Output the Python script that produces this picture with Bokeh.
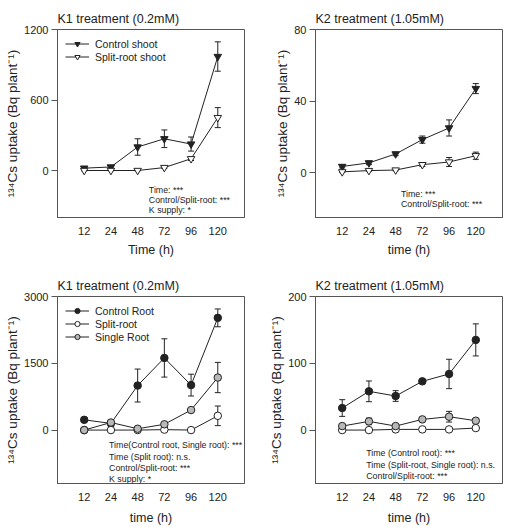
import numpy as np
from bokeh.plotting import figure
from bokeh.layouts import gridplot
from bokeh.models import FixedTicker, Label, Legend, LegendItem, Title
from bokeh.embed import file_html
from bokeh.resources import INLINE

# Sampling times (h), shown as evenly spaced categories
times = ["12", "24", "48", "72", "96", "120"]

# Shoot uptake, K1 (0.2 mM)
k1_control_shoot = [20, 30, 200, 270, 225, 970]
k1_control_shoot_err = [8, 8, 70, 75, 60, 125]
k1_split_shoot = [0, 0, 0, 25, 100, 450]
k1_split_shoot_err = [3, 3, 3, 6, 15, 85]

# Shoot uptake, K2 (1.05 mM)
k2_control_shoot = [3.5, 5.5, 10.5, 18.5, 25, 47]
k2_control_shoot_err = [0.8, 1.0, 1.0, 2.0, 4.5, 2.8]
k2_split_shoot = [0.5, 1.2, 1.5, 4.5, 6, 9.5]
k2_split_shoot_err = [0.4, 0.4, 0.4, 1.0, 2.5, 2.0]

# Root uptake, K1 (0.2 mM)
k1_control_root = [230, 150, 1000, 1620, 1010, 2520]
k1_control_root_err = [40, 70, 370, 430, 245, 200]
k1_split_root = [0, 0, 0, 10, 0, 320]
k1_split_root_err = [5, 5, 5, 10, 5, 220]
k1_single_root = [0, 170, 30, 130, 450, 1180]
k1_single_root_err = [10, 60, 20, 20, 30, 340]

# Root uptake, K2 (1.05 mM)
k2_control_root = [33, 58, 51, 73, 84, 135]
k2_control_root_err = [12.5, 15.5, 8, 2, 22, 24]
k2_split_root = [0, 0, 1, 1, 1, 3]
k2_split_root_err = [0.5, 0.5, 0.5, 0.5, 0.5, 1]
k2_single_root = [6, 13, 6, 16, 20, 14]
k2_single_root_err = [2, 5, 2, 3, 8, 3]

FONT = "Liberation Sans"
INK = "#222222"
FRAME = "#555555"
GREY_FILL = "#b8b8b8"
YLABEL = "\u00b9\u00b3\u2074Cs uptake (Bq plant\u207b\u00b9)"

xs = np.arange(len(times))


def make_panel(title, width, height, borders, yrange, yticks, xlabel, label_pad, ylab):
    left, right, top, bottom = borders
    p = figure(width=width, height=height, x_range=(-1, 6), y_range=yrange,
               output_backend="svg", toolbar_location=None,
               min_border_left=left, min_border_right=right,
               min_border_top=top, min_border_bottom=bottom,
               background_fill_color="white", border_fill_color="white")
    p.grid.visible = False
    p.outline_line_color = FRAME
    p.outline_line_width = 1

    p.title.text = title
    p.title.align = "left"
    p.title.text_font = FONT
    p.title.text_font_size = "12.5px"
    p.title.text_font_style = "normal"
    p.title.text_color = INK
    p.title.standoff = 8

    xa = p.xaxis[0]
    xa.ticker = FixedTicker(ticks=list(xs))
    xa.major_label_overrides = {int(i): t for i, t in zip(xs, times)}
    xa.major_tick_out = 0
    xa.major_tick_in = 0
    xa.minor_tick_out = 0
    xa.minor_tick_in = 0
    xa.major_label_standoff = label_pad[0]
    xa.axis_label = xlabel
    xa.axis_label_standoff = label_pad[1]

    ya = p.yaxis[0]
    ya.ticker = FixedTicker(ticks=yticks)
    ya.major_tick_out = 6
    ya.major_tick_in = 0
    ya.minor_tick_out = 0
    ya.minor_tick_in = 0
    ya.major_label_standoff = 3

    for ax in (xa, ya):
        ax.axis_line_color = FRAME
        ax.major_tick_line_color = FRAME
        ax.major_label_text_font = FONT
        ax.major_label_text_font_size = "11px"
        ax.major_label_text_color = INK
        ax.axis_label_text_font = FONT
        ax.axis_label_text_font_size = "12.5px"
        ax.axis_label_text_font_style = "normal"
        ax.axis_label_text_color = INK

    # vertical quantity label, left of the tick labels, nudged a little downward
    shift, gap = ylab
    p.add_layout(Title(text=YLABEL, align="center", offset=shift, standoff=gap,
                       text_font=FONT, text_font_size="13.5px",
                       text_font_style="normal", text_color=INK), "left")
    return p


def add_series(p, values, errors, marker, fill):
    v = np.asarray(values, dtype=float)
    e = np.asarray(errors, dtype=float)
    p.segment(x0=xs, y0=v - e, x1=xs, y1=v + e, line_color=INK, line_width=1)
    p.scatter(x=xs, y=v + e, marker="dash", size=6, line_color=INK, line_width=1)
    p.scatter(x=xs, y=v - e, marker="dash", size=6, line_color=INK, line_width=1)
    ln = p.line(x=xs, y=v, line_color=INK, line_width=1)
    mk = p.scatter(x=xs, y=v, marker=marker, size=7.5, fill_color=fill,
                   line_color=INK, line_width=1)
    return [ln, mk]


def add_legend(p, items):
    leg = Legend(items=[LegendItem(label=lab, renderers=r) for lab, r in items],
                 location="top_left", border_line_alpha=0,
                 background_fill_alpha=0, glyph_width=24, glyph_height=13,
                 label_height=13, label_standoff=6, spacing=0,
                 margin=3, padding=5, label_text_font=FONT,
                 label_text_font_size="10.5px", label_text_color=INK)
    p.add_layout(leg)


def add_notes(p, x, ys, lines):
    for y, t in zip(ys, lines):
        p.add_layout(Label(x=x, y=y, text=t, text_font=FONT, text_font_size="8.8px",
                           text_color=INK, text_baseline="middle", text_align="left"))


# K1 shoot
p1 = make_panel("K1 treatment (0.2mM)", 255, 262, (57, 11, 29, 45), (-400, 1200),
                [0, 600, 1200], "Time (h)", (9, 5), (-9.5, 3))
r_cs = add_series(p1, k1_control_shoot, k1_control_shoot_err, "inverted_triangle", INK)
r_ss = add_series(p1, k1_split_shoot, k1_split_shoot_err, "inverted_triangle", "white")
add_legend(p1, [("Control shoot", r_cs), ("Split-root shoot", r_ss)])
add_notes(p1, 2.42, [-170, -255, -340],
          ["Time: ***", "Control/Split-root: ***", "K supply: *"])

# K2 shoot
p2 = make_panel("K2 treatment (1.05mM)", 254, 262, (60, 7, 29, 45), (-25, 80),
                [0, 40, 80], "time (h)", (9, 5), (-8.5, 3))
add_series(p2, k2_control_shoot, k2_control_shoot_err, "inverted_triangle", INK)
add_series(p2, k2_split_shoot, k2_split_shoot_err, "inverted_triangle", "white")
add_notes(p2, 2.2, [-12.1, -17.7], ["Time: ***", "Control/Split-root: ***"])

# K1 root
p3 = make_panel("K1 treatment (0.2mM)", 255, 265, (57, 11, 34, 44), (-1200, 3000),
                [0, 1500, 3000], "time (h)", (9, 7), (-7, 3))
r_cr = add_series(p3, k1_control_root, k1_control_root_err, "circle", INK)
r_sr = add_series(p3, k1_split_root, k1_split_root_err, "circle", "white")
r_gr = add_series(p3, k1_single_root, k1_single_root_err, "circle", GREY_FILL)
add_legend(p3, [("Control Root", r_cr), ("Split-root", r_sr), ("Single Root", r_gr)])
add_notes(p3, 0.93, [-346, -616, -847, -1094],
          ["Time(Control root, Single root): ***", "Time (Split root): n.s.",
           "Control/Split-root: ***", "K supply: *"])

# K2 root
p4 = make_panel("K2 treatment (1.05mM)", 254, 265, (60, 7, 34, 44), (-80, 200),
                [0, 100, 200], "time (h)", (9, 7), (-6.5, 3))
add_series(p4, k2_control_root, k2_control_root_err, "circle", INK)
add_series(p4, k2_split_root, k2_split_root_err, "circle", "white")
add_series(p4, k2_single_root, k2_single_root_err, "circle", GREY_FILL)
add_notes(p4, 0.9, [-35, -52.6, -68.6],
          ["Time (Control root): ***", "Time (Split-root, Single root): n.s.",
           "Control/Split-root: ***"])

grid = gridplot([[p1, p2], [p3, p4]], toolbar_location=None)

with open("out.html", "w") as f:
    f.write(file_html(grid, INLINE))
